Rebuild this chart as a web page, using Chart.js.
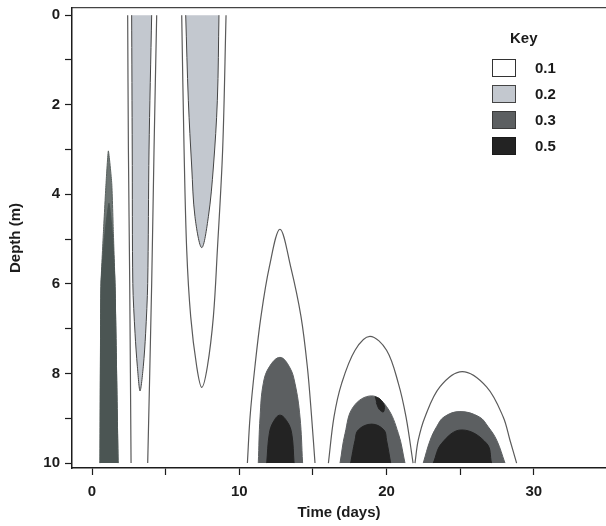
<!DOCTYPE html>
<html><head><meta charset="utf-8">
<script src="https://cdn.jsdelivr.net/npm/chart.js@4.4.0/dist/chart.umd.min.js"></script>
<style>
html,body{margin:0;padding:0;background:#fff;}
#wrap{position:relative;width:606px;height:526px;}
#legend{position:absolute;left:480px;top:26px;width:110px;font-family:'Liberation Sans',Arial,sans-serif;color:#1a1a1a;font-weight:bold;}
#legend .ttl{position:absolute;left:30px;top:3px;font-size:15px;}
#legend .row{position:absolute;left:12px;height:18px;}
#legend .box{position:absolute;left:0;top:0;width:24px;height:18px;box-sizing:border-box;}
#legend .lab{position:absolute;left:43px;top:0;line-height:18px;font-size:15px;}
</style></head><body>
<div id="wrap"><canvas id="c" width="606" height="526"></canvas><div id="legend"></div></div>
<script>
// ---- axes ----
const xTickValues = [0, 5, 10, 15, 20, 25, 30];
const xTickLabels = ['0', '', '10', '', '20', '', '30'];
const yTickValues = [0, 1, 2, 3, 4, 5, 6, 7, 8, 9, 10];
const yTickLabels = ['0', '', '2', '', '4', '', '6', '', '8', '', '10'];
const xTitle = 'Time (days)';
const yTitle = 'Depth (m)';

// ---- key ----
const keyTitle = 'Key';
const keyLevels = ['0.1', '0.2', '0.3', '0.5'];

// ---- contours: time (days) and depth (m) ----
// event 1 (spike)
const e1_03_t = [0.54, 0.61, 0.77, 0.95, 1.11, 1.34, 1.45, 1.56, 1.77];
const e1_03_d = [10, 6, 4.87, 3.76, 3.03, 3.76, 4.87, 6, 10];
const e1_05_t = [0.54, 0.61, 0.88, 1.15, 1.38, 1.56, 1.77];
const e1_05_d = [10, 6, 4.87, 4.2, 4.87, 6, 10];
// event 2
const e2_02_t = [2.69, 2.73, 2.77, 2.92, 3.08, 3.26, 3.48, 3.64, 3.78, 3.87, 4.05];
const e2_02_d = [0, 3.01, 5.99, 7.1, 7.85, 8.39, 7.85, 7.1, 5.99, 3.01, 0];
const e2_01L_t = [2.42, 2.47, 2.56, 2.65];
const e2_01L_d = [0, 3, 6, 10];
const e2_01R_t = [4.39, 4.21, 4.05, 3.78];
const e2_01R_d = [0, 3, 6, 10];
// event 3
const e3_02_t = [6.36, 6.54, 6.77, 6.99, 7.45, 7.90, 8.24, 8.51, 8.62];
const e3_02_d = [0, 1.9, 3.39, 4.5, 5.19, 4.5, 3.39, 1.9, 0];
const e3_01_t = [6.09, 6.25, 6.43, 6.70, 7.11, 7.45, 7.83, 8.24, 8.51, 8.87, 9.10];
const e3_01_d = [0, 3, 5.25, 6.73, 7.85, 8.31, 7.85, 6.73, 5.25, 3, 0];
// event 4
const e4_01_t = [10.55, 10.73, 11.06, 11.47, 12.04, 12.76, 13.49, 14.19, 14.62, 14.91, 15.14];
const e4_01_d = [10, 8.97, 7.85, 6.73, 5.62, 4.78, 5.62, 6.73, 7.85, 8.97, 10];
const e4_03_t = [11.29, 11.41, 11.63, 12.04, 12.76, 13.40, 13.78, 14.12, 14.30];
const e4_03_d = [10, 8.97, 8.22, 7.85, 7.64, 7.85, 8.22, 8.97, 10];
const e4_05_t = [11.86, 12.04, 12.31, 12.76, 13.26, 13.56, 13.72];
const e4_05_d = [10, 9.34, 9.08, 8.93, 9.08, 9.34, 10];
// event 5
const e5_01_t = [16.05, 16.43, 16.95, 17.86, 18.87, 20.0, 20.80, 21.32, 21.80];
const e5_01_d = [10, 8.97, 8.22, 7.48, 7.17, 7.48, 8.22, 8.97, 10];
const e5_03_t = [16.84, 17.18, 17.75, 18.99, 20.0, 20.80, 21.25];
const e5_03_d = [10, 9.34, 8.74, 8.5, 8.74, 9.34, 10];
const e5_05_t = [17.56, 17.86, 18.08, 18.99, 19.82, 20.0, 20.28];
const e5_05_d = [10, 9.49, 9.26, 9.13, 9.26, 9.49, 10];
const e5_05b_t = [19.2, 19.55, 19.85, 19.78, 19.5, 19.3];
const e5_05b_d = [8.52, 8.57, 8.72, 8.86, 8.8, 8.65];
// event 6
const e6_01_t = [21.93, 22.15, 22.61, 23.62, 25.14, 26.79, 27.92, 28.38, 28.83];
const e6_01_d = [10, 9.49, 8.97, 8.3, 7.96, 8.3, 8.97, 9.49, 10];
const e6_03_t = [22.49, 22.96, 23.4, 23.9, 24.98, 26.3, 26.9, 27.48, 28.04];
const e6_03_d = [10, 9.49, 9.19, 8.97, 8.85, 8.97, 9.19, 9.49, 10];
const e6_05_t = [23.17, 23.74, 25.1, 26.79, 27.13];
const e6_05_d = [10, 9.56, 9.26, 9.56, 10];

// ---- styles ----
const FONT = "'Liberation Sans', Arial, sans-serif";
const INK = '#1c1c1c';
const COL01 = '#ffffff', COL02 = '#c3c8cf', COL03 = '#5c5f61', COL05 = '#232323';
const SPIKE_OUT = '#6d7573', SPIKE_IN = '#4b5553';
const LINE01 = '#5a5a5a';

function pts(ts, ds) { return ts.map((t, i) => ({x: t, y: ds[i]})); }
function area(ts, ds, base, color, border, tension) {
  return {data: pts(ts, ds), fill: base === 'shape' ? 'shape' : {value: base}, backgroundColor: color,
    borderColor: border || color, borderWidth: 1, tension: tension, pointRadius: 0};
}
function line(ts, ds, tension) {
  return {data: pts(ts, ds), fill: false, borderColor: LINE01, borderWidth: 1.2,
    tension: tension, pointRadius: 0};
}

// drawing order: first = bottom
const layers = [
  area(e1_03_t, e1_03_d, 10, SPIKE_OUT, '#5a6260', 0.15),
  area(e1_05_t, e1_05_d, 10, SPIKE_IN, SPIKE_IN, 0.15),
  area(e2_02_t, e2_02_d, 0, COL02, '#444', 0.3),
  line(e2_01L_t, e2_01L_d, 0.3),
  line(e2_01R_t, e2_01R_d, 0.3),
  area(e3_02_t, e3_02_d, 0, COL02, '#444', 0.35),
  line(e3_01_t, e3_01_d, 0.35),
  line(e4_01_t, e4_01_d, 0.35),
  area(e4_03_t, e4_03_d, 10, COL03, COL03, 0.4),
  area(e4_05_t, e4_05_d, 10, COL05, COL05, 0.4),
  line(e5_01_t, e5_01_d, 0.35),
  area(e5_03_t, e5_03_d, 10, COL03, COL03, 0.4),
  area(e5_05_t, e5_05_d, 10, COL05, COL05, 0.4),
  area(e5_05b_t, e5_05b_d, 'shape', COL05, COL05, 0.3),
  line(e6_01_t, e6_01_d, 0.35),
  area(e6_03_t, e6_03_d, 10, COL03, COL03, 0.4),
  area(e6_05_t, e6_05_d, 10, COL05, COL05, 0.4),
];
layers.forEach((d, i) => { d.order = layers.length - i; });

new Chart(document.getElementById('c'), {
  type: 'line',
  data: {datasets: layers},
  options: {
    responsive: false, animation: false,
    layout: {padding: 0},
    plugins: {legend: {display: false}, tooltip: {enabled: false}},
    scales: {
      x: {
        type: 'linear', min: -1.36, max: 34.9,
        afterBuildTicks: s => { s.ticks = xTickValues.map(v => ({value: v})); },
        afterFit: s => { s.height = 58; s.paddingLeft = 0; s.paddingRight = 0; },
        ticks: {callback: (v, i) => xTickLabels[i], autoSkip: false, maxRotation: 0,
          padding: 8, color: INK, font: {family: FONT, size: 15, weight: 'bold'}},
        grid: {drawOnChartArea: false, drawTicks: true, tickLength: 7, color: INK, tickWidth: 1.2},
        border: {display: true, color: INK, width: 1.5},
        title: {display: true, text: xTitle, color: INK, font: {family: FONT, size: 15, weight: 'bold'},
          padding: {top: 0, bottom: 4}}
      },
      xTop: {
        type: 'linear', position: 'top', min: -1.36, max: 34.9,
        afterFit: s => { s.height = 8; s.paddingLeft = 0; s.paddingRight = 0; },
        ticks: {display: false},
        grid: {drawOnChartArea: false, drawTicks: false},
        border: {display: true, color: '#444', width: 1.2}
      },
      y: {
        type: 'linear', reverse: true, min: -0.16, max: 10.11,
        afterBuildTicks: s => { s.ticks = yTickValues.map(v => ({value: v})); },
        afterFit: s => { s.width = 72; s.paddingTop = 0; s.paddingBottom = 0; },
        ticks: {callback: (v, i) => yTickLabels[i], autoSkip: false,
          padding: 5, color: INK, font: {family: FONT, size: 15, weight: 'bold'}},
        grid: {drawOnChartArea: false, drawTicks: true, tickLength: 7, color: INK, tickWidth: 1.2},
        border: {display: true, color: INK, width: 1.5},
        title: {display: true, text: yTitle, color: INK, font: {family: FONT, size: 15, weight: 'bold'},
          padding: {top: 7, bottom: 0}}
      }
    }
  }
});

// ---- key (HTML) ----
const keyFill = [COL01, COL02, COL03, COL05];
const keyBorder = ['#333', '#444', '#3a3a3a', '#1a1a1a'];
const lg = document.getElementById('legend');
let html = '<div class="ttl">' + keyTitle + '</div>';
keyLevels.forEach((lev, i) => {
  html += '<div class="row" style="top:' + (33 + i * 26) + 'px"><div class="box" style="background:' +
    keyFill[i] + ';border:1.5px solid ' + keyBorder[i] + '"></div><div class="lab">' + lev + '</div></div>';
});
lg.innerHTML = html;
</script>
</body></html>
